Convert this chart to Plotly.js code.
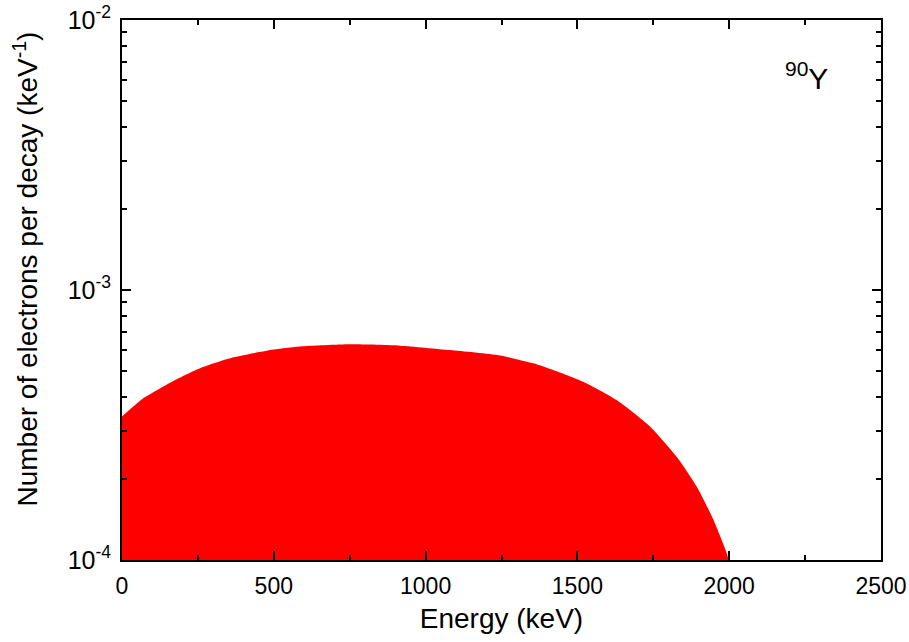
<!DOCTYPE html>
<html>
<head>
<meta charset="utf-8">
<script src="https://cdn.plot.ly/plotly-3.0.1.min.js"></script>
<style>html,body{margin:0;padding:0;background:#fff;}#chart{width:909px;height:642px;}</style>
</head>
<body>
<div id="chart"></div>
<script>
// Beta spectrum of 90Y (energy in keV, electrons per decay per keV)
const energy = [0, 70, 125, 180, 257, 367, 477, 586, 751, 916, 1080, 1245, 1355, 1420, 1519, 1629, 1739, 1827, 1893, 1948, 1992, 1998];
const spectrum = [3.40e-4, 3.97e-4, 4.32e-4, 4.67e-4, 5.13e-4, 5.63e-4, 5.96e-4, 6.17e-4, 6.29e-4, 6.22e-4, 5.99e-4, 5.72e-4, 5.35e-4, 5.05e-4, 4.57e-4, 3.91e-4, 3.12e-4, 2.41e-4, 1.87e-4, 1.41e-4, 1.06e-4, 1.0e-4];
const xTicks = [0, 500, 1000, 1500, 2000, 2500];
const yTicks = [1e-4, 1e-3, 1e-2];
const yTickText = ['10<sup>-4</sup>', '10<sup>-3</sup>', '10<sup>-2</sup>'];

const font = 'Liberation Sans, Arial, sans-serif';

const trace = {
  x: energy, y: spectrum, type: 'scatter', mode: 'lines',
  line: {color: '#ff0000', width: 0, shape: 'spline', smoothing: 0.6},
  fill: 'tozeroy', fillcolor: '#ff0000', hoverinfo: 'skip'
};

const layout = {
  width: 909, height: 642,
  margin: {l: 122, r: 28, t: 20, b: 82},
  paper_bgcolor: '#fff', plot_bgcolor: '#fff',
  showlegend: false,
  font: {family: font, color: '#000'},
  xaxis: {
    range: [0, 2500], tickvals: xTicks, ticktext: xTicks.map(String),
    ticks: 'inside', ticklen: 9, tickwidth: 2, tickcolor: '#000',
    minor: {ticks: 'inside', ticklen: 5, tickwidth: 2, tickcolor: '#000', dtick: 250},
    showline: true, linecolor: '#000', linewidth: 2, mirror: 'ticks',
    showgrid: false, zeroline: false,
    tickfont: {size: 23, family: font}, ticklabelstandoff: 4,
    title: {text: 'Energy (keV)', font: {size: 28, family: font}, standoff: 11}
  },
  yaxis: {
    type: 'log', range: [-4, -2],
    tickvals: yTicks, ticktext: yTickText,
    ticks: 'inside', ticklen: 9, tickwidth: 2, tickcolor: '#000',
    minor: {ticks: 'inside', ticklen: 5, tickwidth: 2, tickcolor: '#000', dtick: 'D1'},
    showline: true, linecolor: '#000', linewidth: 2, mirror: 'ticks',
    showgrid: false, zeroline: false,
    tickfont: {size: 25, family: font}, ticklabelstandoff: 4
  },
  annotations: [{
    xref: 'paper', yref: 'paper', x: 0.933, y: 0.896, xanchor: 'right', yanchor: 'middle',
    text: '<sup>90</sup>Y', showarrow: false, font: {size: 30, family: font, color: '#000'}
  }, {
    xref: 'paper', yref: 'paper', x: -0.127, y: 0.539, xanchor: 'center', yanchor: 'middle',
    textangle: -90, showarrow: false,
    text: 'Number of electrons per decay (keV<sup>-1</sup>)', font: {size: 28, family: font, color: '#000'}
  }]
};

Plotly.newPlot('chart', [trace], layout, {displayModeBar: false, staticPlot: true});
</script>
</body>
</html>
